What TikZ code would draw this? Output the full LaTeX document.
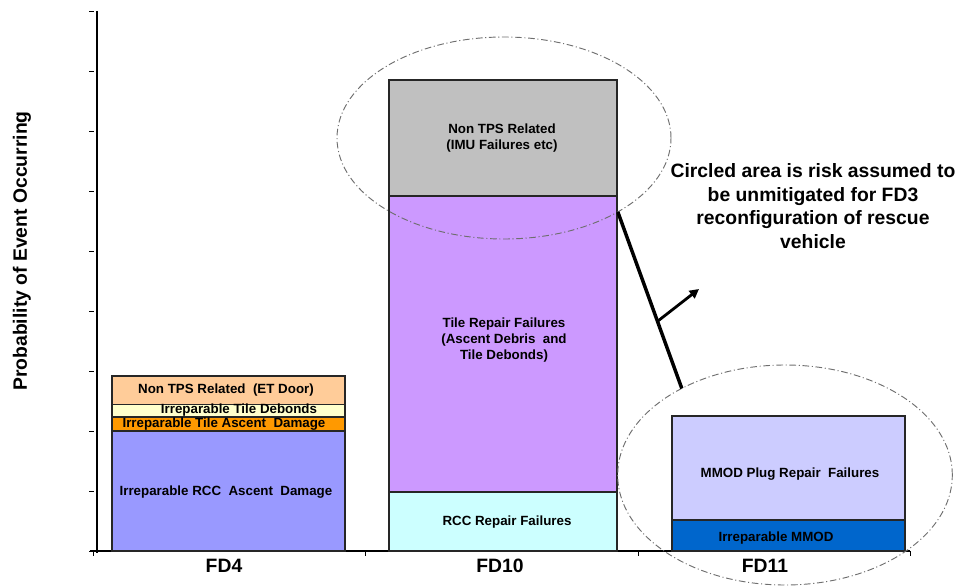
\documentclass[tikz,border=0pt]{standalone}
\usepackage{fontspec}
\setmainfont{Liberation Sans}
\usetikzlibrary{shapes.geometric,arrows.meta}
\definecolor{cPeach}{HTML}{FFCC99}
\definecolor{cLYellow}{HTML}{FFFFCC}
\definecolor{cOrange}{HTML}{FF9900}
\definecolor{cBlue}{HTML}{9999FF}
\definecolor{cGray}{HTML}{C0C0C0}
\definecolor{cPurple}{HTML}{CC99FF}
\definecolor{cCyan}{HTML}{CCFFFF}
\definecolor{cLav}{HTML}{CCCCFF}
\definecolor{cDBlue}{HTML}{0066CC}
\definecolor{cRing}{HTML}{6E6E6E}
\tikzset{
  barseg/.style={draw=black!85, line width=0.8pt},
  seglbl/.style={font=\fontsize{10}{12}\selectfont\bfseries, inner sep=0pt, align=center},
  biglbl/.style={font=\fontsize{14.5}{17.6}\selectfont\bfseries, inner sep=0pt, align=center},
  axisline/.style={draw=black, line width=0.9pt},
  tickline/.style={draw=black, line width=0.7pt},
  ring/.style={ellipse, draw=cRing, line width=0.7pt, inner sep=0pt, outer sep=0pt,
     dash pattern=on 5pt off 2pt on 0.8pt off 2pt},
  callline/.style={line width=2.6pt, draw=black},
  callarrow/.style={line width=2.1pt, draw=black, -{Triangle[length=7pt,width=7pt]}},
}
\begin{document}
\begin{tikzpicture}[x=0.75pt,y=-0.75pt]
\useasboundingbox (0,0) rectangle (961,588);

% axes
\draw[axisline] (97,11) -- (97,553);
\draw[axisline] (90,551) -- (910,551);
\foreach \yy in {11,71,131,191,251,311,371,431,491,551}
  \draw[tickline] (89,\yy) -- (94,\yy);
\foreach \xx in {93,365,638,910}
  \draw[tickline] (\xx,551) -- (\xx,556);

% y label
\node[biglbl, rotate=90] (ylab) at (22,251) {Probability of Event Occurring};

% FD4 bar
\draw[barseg, fill=cBlue] (112,431) rectangle (345,551);
\draw[barseg, fill=cOrange] (112,417) rectangle (345,431);
\draw[barseg, fill=cLYellow] (112,404.5) rectangle (345,417);
\draw[barseg, fill=cPeach] (112,376) rectangle (345,404.5);
\node[seglbl] (fdA1) at (226,390) {Non TPS Related\ \ (ET Door)};
\node[seglbl] (fdA2) at (239,410.5) {Irreparable Tile Debonds};
\node[seglbl] (fdA3) at (224,424) {Irreparable Tile Ascent\ \ Damage};
\node[seglbl] (fdA4) at (226,492) {Irreparable RCC\ \ Ascent\ \ Damage};

% FD10 bar
\draw[barseg, fill=cCyan] (389,492) rectangle (617,551);
\draw[barseg, fill=cPurple] (389,196) rectangle (617,492);
\draw[barseg, fill=cGray] (389,80) rectangle (617,196);
\node[seglbl] (fdB1) at (502,138.5) {Non TPS Related\\(IMU Failures etc)};
\node[seglbl] (fdB2) at (504,340) {Tile Repair Failures\\(Ascent Debris\ \ and\\Tile Debonds)};
\node[seglbl] (fdB3) at (507,522) {RCC Repair Failures};

% FD11 bar
\draw[barseg, fill=cDBlue] (672,520) rectangle (905,551);
\draw[barseg, fill=cLav] (672,416) rectangle (905,520);
\node[seglbl] (fdC1) at (790,474) {MMOD Plug Repair\ \ Failures};
\node[seglbl] (fdC2) at (776,538) {Irreparable MMOD};

% category labels
\node[biglbl] (cat1) at (224,566) {FD4};
\node[biglbl] (cat2) at (500,566) {FD10};
\node[biglbl] (cat3) at (765,566) {FD11};

% rings
\node[ring, minimum width=250.5pt, minimum height=151.5pt] (e1) at (504,138) {};
\node[ring, minimum width=251pt, minimum height=165pt] (e2) at (785,475) {};

% callout
\node[biglbl] (note) at (813,206) {Circled area is risk assumed to\\be unmitigated for FD3\\reconfiguration of rescue\\vehicle};
\draw[callline] (e1.-33) -- (e2.140) coordinate[pos=0.62] (mid);
\coordinate (tip) at (699,289);
\draw[callarrow] (mid) -- (tip);
\end{tikzpicture}
\end{document}
